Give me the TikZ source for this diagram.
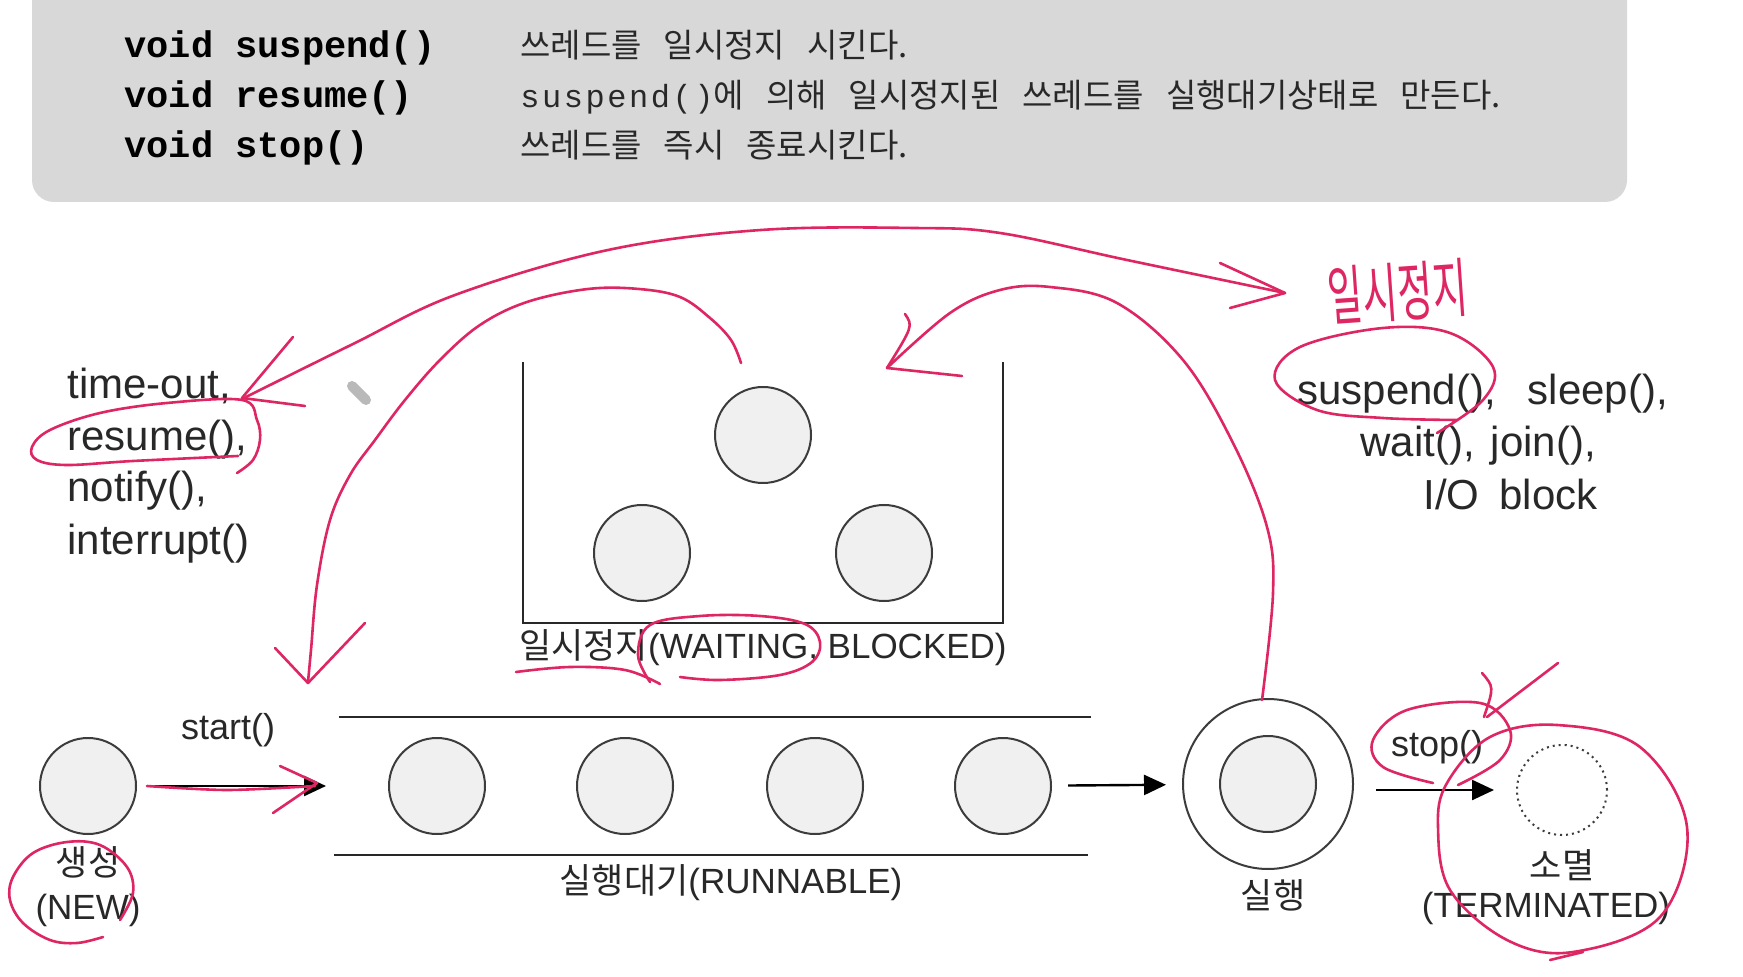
\documentclass[tikz,border=0pt]{standalone}
\usepackage{fontspec}
\usepackage{graphicx}
\setmainfont{Liberation Sans}
\newfontfamily\kr{Noto Sans CJK KR}
\newfontfamily\mono{Liberation Mono}
\newfontfamily\monowide[LetterSpace=8]{Liberation Mono}
\usetikzlibrary{arrows.meta}
\definecolor{pinkpen}{RGB}{222,38,98}
\definecolor{boxgray}{RGB}{216,216,216}
\definecolor{ink}{RGB}{40,40,40}
\definecolor{ballfill}{RGB}{240,240,240}
\definecolor{ballline}{RGB}{60,60,60}
\newcommand\gap{\hspace{11pt}}
\begin{document}
\begin{tikzpicture}[x=0.5pt,y=-0.5pt,
 ball/.style={circle, draw=ballline, line width=1pt, fill=ballfill, minimum size=48pt, inner sep=0pt},
 ring/.style={circle, draw=ballline, line width=1pt, fill=white, minimum size=85pt, inner sep=0pt},
 ghost/.style={circle, draw=ballline, dotted, line width=1pt, minimum size=45pt, inner sep=0pt},
 arr/.style={-{Triangle[length=11pt,width=10pt]}, line width=1.2pt, draw=black},
 bar/.style={line width=1.2pt, draw=ink},
 pen/.style={draw=pinkpen, line width=1.3pt, line cap=round, line join=round},
 lbl/.style={font=\fontsize{17.5pt}{20pt}\selectfont, text=ink, inner sep=0pt},
 call/.style={font=\fontsize{18pt}{21pt}\selectfont, text=ink, inner sep=0pt},
 lst/.style={font=\fontsize{21pt}{25pt}\selectfont, text=ink, inner sep=0pt, anchor=base west},
 code/.style={font=\fontsize{18.5pt}{22pt}\selectfont\mono\bfseries, text=black, inner sep=0pt, anchor=base west},
 desc/.style={font=\fontsize{16.5pt}{19pt}\selectfont\kr, text=ink, inner sep=0pt, anchor=base west},
 hand/.style={font=\fontsize{19pt}{22pt}\selectfont\kr, text=pinkpen, inner sep=0pt},
]
\useasboundingbox (0,0) rectangle (1743,977);
\fill[white] (0,0) rectangle (1743,977);

% top grey panel
\fill[boxgray, rounded corners=11pt] (32,-60) rectangle (1627,202);
\node[code] (c1) at (124,58) {void suspend()};
\node[code] (c2) at (124,108) {void resume()};
\node[code] (c3) at (124,158) {void stop()};
\node[desc] (d1) at (520,58) {쓰레드를\gap 일시정지\gap 시킨다.};
\node[desc] (d2) at (520,108) {{\fontsize{16pt}{18pt}\selectfont\monowide suspend()}에\gap 의해\gap 일시정지된\gap 쓰레드를\gap 실행대기상태로\gap 만든다.};
\node[desc] (d3) at (520,158) {쓰레드를\gap 즉시\gap 종료시킨다.};

% NEW
\node[ball] (new) at (88,786) {};
\node[lbl] (newk) at (88,862) {\kr 생성};
\node[lbl] (newe) at (88,910) {(NEW)};
\node[call] (start) at (228,730) {start()};
\coordinate (rin) at (326,786);
\draw[arr, shorten <=5pt] (new) -- (rin);

% RUNNABLE
\draw[bar] (339,717) -- (1091,717);
\draw[bar] (334,855) -- (1088,855);
\node[ball] (r1) at (437,786) {};
\node[ball] (r2) at (625,786) {};
\node[ball] (r3) at (815,786) {};
\node[ball] (r4) at (1003,786) {};
\node[lbl] (runlbl) at (731,883) {{\kr 실행대기}(RUNNABLE)};

% RUNNING
\node[ring] (run) at (1268,784) {};
\node[ball] (runin) at (1268,784) {};
\node[lbl] (runl) at (1273,895) {\kr 실행};
\draw[arr, shorten <=8pt, shorten >=8pt] (r4) -- (run);

% TERMINATED
\node[ghost] (term) at (1562,790) {};
\node[lbl] (termk) at (1562,865) {\kr 소멸};
\node[lbl] (terme) at (1546,908) {(TERMINATED)};
\node[call] (stop) at (1437,747) {stop()};
\draw[arr, shorten <=11pt, shorten >=11pt] (run.east |- term.west) -- (term.west);

% WAITING / BLOCKED
\draw[bar] (523,362) -- (523,623) -- (1003,623) -- (1003,362);
\node[ball] (w1) at (763,435) {};
\node[ball] (w2) at (642,553) {};
\node[ball] (w3) at (884,553) {};
\node[lbl] (waitlbl) at (763,648) {{\kr 일시정지}(WAITING,\ BLOCKED)};

% left list
\node[lst] (l1) at (67,399) {time-out,};
\node[lst] (l2) at (67,451) {resume(),};
\node[lst] (l3) at (67,502) {notify(),};
\node[lst] (l4) at (67,554) {interrupt()};

% right list
\node[lst] (s1) at (1297,405) {suspend(),\hspace{16pt}sleep(),};
\node[lst] (s2) at (1360,457) {wait(),\hspace{8pt}join(),};
\node[lst] (s3) at (1423,510) {I/O\hspace{10pt}block};

% cursor
\draw[line width=5pt, gray!55, line cap=round] (352,386) -- (366,400);

% ---- pink pen annotations ----
\node[hand, rotate=4] (hw) at (1398,292) {\scalebox{1}[1.7]{일시정지}};
% big arc
\draw[pen] plot[smooth, tension=0.6] coordinates {(246,397) (353,344) (455,295) (608,250) (761,230) (914,228) (1000,233) (1127,260) (1285,293)};
\draw[pen] (293,337) -- (242,398) -- (305,406);
\draw[pen] (1220,263) -- (1285,293) -- (1230,308);
% resume loop
\draw[pen] plot[smooth, tension=0.6] coordinates {(238,456) (133,461) (67,465) (37,460) (32,447) (50,430) (100,413) (167,403) (242,400) (257,420) (260,440) (253,460) (237,473)};
% arc from waiting to runnable
\draw[pen] plot[smooth, tension=0.6] coordinates {(741,363) (731,340) (710,318) (680,297) (639,289) (588,289) (527,302) (480,325) (440,360) (405,400) (375,440) (350,475) (330,520) (317,585) (311,650) (308,682)};
\draw[pen] (275,648) -- (308,683) -- (365,623);
% arc from running to waiting
\draw[pen] plot[smooth, tension=0.6] coordinates {(1262,700) (1273,593) (1267,527) (1233,443) (1183,360) (1117,303) (1050,287) (1000,290) (950,313) (887,368)};
\draw[pen] (905,314) .. controls (913,326) .. (887,368) -- (962,376);
% suspend loop
\draw[pen] plot[smooth, tension=0.6] coordinates {(1437,433) (1483,400) (1493,367) (1450,333) (1383,328) (1300,347) (1275,380) (1317,410) (1383,418) (1457,420)};
% waiting underline and loop
\draw[pen] plot[smooth, tension=0.6] coordinates {(516,672) (570,667) (625,670) (660,684)};
\draw[pen] plot[smooth, tension=0.6] coordinates {(650,682) (638,655) (650,625) (700,616) (760,616) (805,624) (820,642) (812,662) (780,675) (720,680) (680,677)};
% NEW loop
\draw[pen] plot[smooth, tension=0.6] coordinates {(120,920) (133,893) (127,867) (100,845) (67,842) (33,853) (13,877) (10,900) (23,923) (50,940) (77,943) (103,937)};
% start arrow overdraw
\draw[pen] plot[smooth] coordinates {(147,786) (227,790) (315,786)};
\draw[pen] (280,766) -- (317,783) -- (273,813);
% stop loop and arrow
\draw[pen] plot[smooth, tension=0.6] coordinates {(1433,783) (1383,767) (1373,740) (1407,710) (1480,703) (1510,730) (1500,760) (1458,785)};
\draw[pen] (1558,663) -- (1487,717);
\draw[pen] (1482,673) .. controls (1494,687) .. (1484,717);
% terminated loop
\draw[pen] plot[smooth cycle, tension=0.6] coordinates {(1447,783) (1490,737) (1557,725) (1640,747) (1687,827) (1660,917) (1573,952) (1507,940) (1450,890) (1438,827)};
\draw[pen] (1550,960) -- (1583,952);
\end{tikzpicture}
\end{document}
